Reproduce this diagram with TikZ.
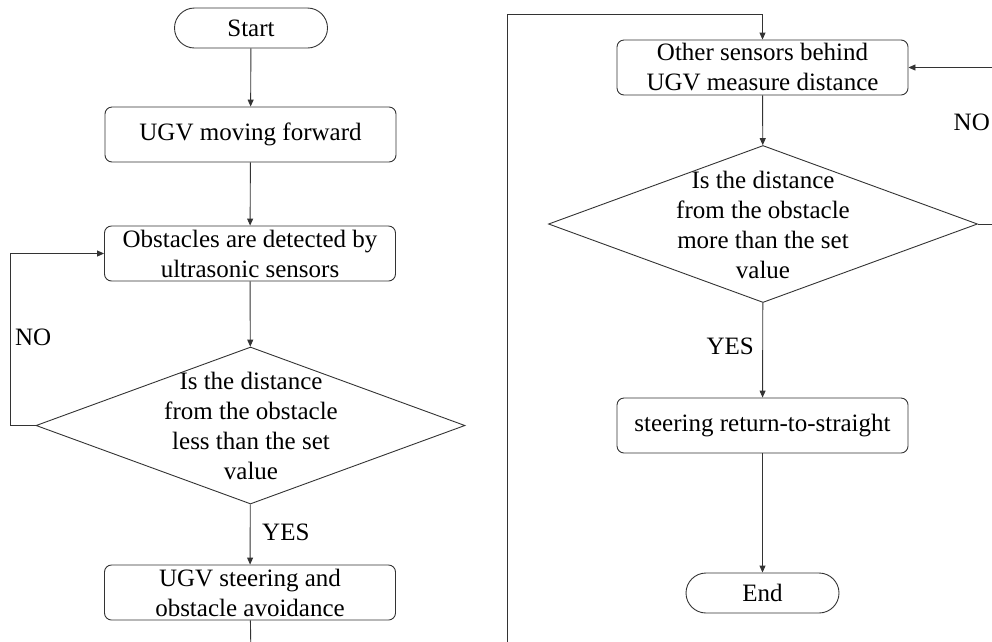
\documentclass[tikz,border=0pt]{standalone}
\usepackage{fontspec}
\setmainfont{Liberation Serif}
\usetikzlibrary{arrows.meta,shapes.geometric}
\begin{document}
\begin{tikzpicture}[x=1pt,y=-1pt,
  every node/.style={font=\fontsize{25}{30}\selectfont},
  proc/.style={draw=black!80,line width=0.9pt,rounded corners=7pt,minimum width=291pt,minimum height=55pt,inner sep=0pt,align=center},
  term/.style={draw=black!80,line width=0.9pt,rounded corners=20pt,minimum width=153pt,minimum height=40pt,inner sep=0pt},
  decision/.style={draw=black!80,line width=0.9pt,diamond,minimum width=429pt,minimum height=157pt,inner sep=0pt},
  dtext/.style={align=center,inner sep=0pt},
  lbl/.style={inner sep=0pt},
  conn/.style={draw=black!80,line width=0.9pt,-{Triangle[length=7pt,width=6pt]}},
  line/.style={draw=black!80,line width=0.9pt}]
\useasboundingbox (0,0) rectangle (992,641);
\clip (0,0) rectangle (992,641);
% left column
\node[term] (start) at (251,28) {Start};
\node[proc] (fwd) at (250.5,134.5) {UGV moving forward};
\node[proc] (obs) at (250,253.5) {Obstacles are detected by\\ultrasonic sensors};
\node[decision] (d1) at (250.5,425.5) {};
\node[dtext] (d1t) at (251,426) {Is the distance\\from the obstacle\\less than the set\\value};
\node[proc] (steer) at (250,592.5) {UGV steering and\\obstacle avoidance};
\coordinate (lout) at (251,660);
\coordinate (lloop) at (10,425.5);
\node[lbl,anchor=west] (no1) at (15,337) {NO};
\node[lbl,anchor=west] (yes1) at (262,532) {YES};
\draw[conn] (start) -- (fwd);
\draw[conn] (fwd) -- (obs);
\draw[conn] (obs) -- (d1);
\draw[conn] (d1) -- (steer);
\draw[conn] (d1.west) -- (lloop) |- (obs.west);
\draw[line] (steer) -- (lout);
% right column
\node[proc] (other) at (762.5,67.5) {Other sensors behind\\UGV measure distance};
\node[decision] (d2) at (763,224) {};
\node[dtext] (d2t) at (763,225) {Is the distance\\from the obstacle\\more than the set\\value};
\node[proc] (ret) at (762.5,425.5) {steering return-to-straight};
\node[term] (end) at (762.5,593) {End};
\coordinate (rin) at (507,660);
\coordinate (rtop) at (507,14);
\coordinate (rright) at (1005,224);
\node[lbl,anchor=east] (no2) at (990,122) {NO};
\node[lbl,anchor=east] (yes2) at (754,346) {YES};
\draw[conn] (rin) -- (rtop) -| (other.north);
\draw[conn] (other) -- (d2);
\draw[conn] (d2) -- (ret);
\draw[conn] (ret) -- (end);
\draw[conn] (d2.east) -- (rright) |- (other.east);
\end{tikzpicture}
\end{document}
